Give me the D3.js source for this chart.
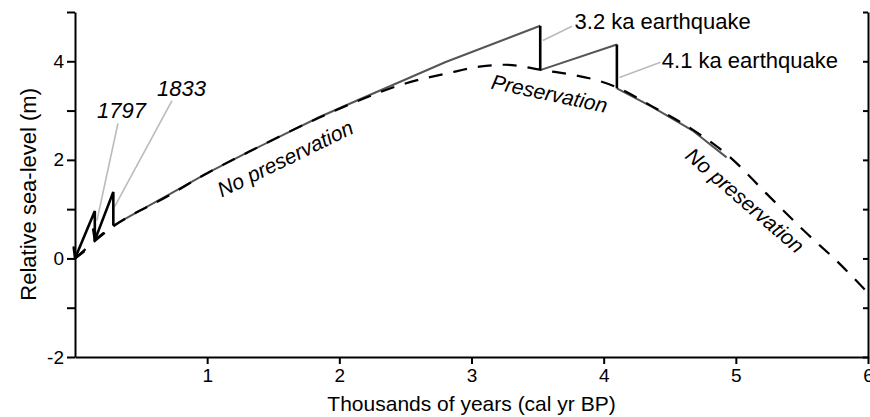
<!DOCTYPE html>
<html>
<head>
<meta charset="utf-8">
<script src="https://cdn.jsdelivr.net/npm/d3@7"></script>
<style>
  body { margin: 0; background: #fff; }
  text { font-family: "Liberation Sans", Arial, sans-serif; }
</style>
</head>
<body>
<div id="chart"></div>
<script>
// data (thousands of years BP, metres)
var xTicks = [1, 2, 3, 4, 5, 6];
var yTicks = [-2, -1, 0, 1, 2, 3, 4, 5];

// relative sea-level curve (dashed)
var rslCurve = [[0,0],[0.29,0.65],[0.7,1.26],[1.0,1.73],[1.32,2.17],[1.85,2.86],[2.19,3.25],
  [2.5,3.55],[2.84,3.77],[3.06,3.89],[3.25,3.93],[3.52,3.83],[4.1,3.47],[4.37,3.08],
  [4.67,2.62],[4.95,2.07],[5.23,1.32],[5.52,0.55],[5.79,-0.12],[6.0,-0.7]];

// preserved record (grey solid)
var recordA = [[0.29,0.67],[0.7,1.28],[1.0,1.73],[1.32,2.17],[1.85,2.87],[2.19,3.27],[2.5,3.63],[2.8,3.98],[3.52,4.72]];
var recordB = [[3.52,3.82],[4.1,4.34]];
var recordC = [[4.1,3.45],[4.37,3.07],[4.67,2.6],[4.93,2.05]];

// historic earthquakes zigzag and coseismic drops (black)
var historic = [[0,0],[0.15,0.96],[0.15,0.37],[0.29,1.35],[0.29,0.67]];
var drop32 = [[3.52,4.72],[3.52,3.82]];
var drop41 = [[4.1,4.34],[4.1,3.45]];
var arrowTips = [[[0,0],[0.15,0.96]], [[0.15,0.37],[0.29,1.35]]];

// callouts: label, text position, leader from / to
var callouts = [
  {label: "1797", italic: true, t: 0.166, v: 2.84, from: [0.325,2.74], to: [0.166,0.77]},
  {label: "1833", italic: true, t: 0.62, v: 3.29, from: [0.734,3.2], to: [0.30,1.05]},
  {label: "3.2 ka earthquake", italic: false, t: 3.78, v: 4.65, from: [3.76,4.71], to: [3.54,4.42]},
  {label: "4.1 ka earthquake", italic: false, t: 4.44, v: 3.87, from: [4.43,3.98], to: [4.12,3.67]}
];
var segmentLabels = [
  {label: "No preservation", t: 1.59, v: 2.03, angle: -26},
  {label: "Preservation", t: 3.59, v: 3.35, angle: 12},
  {label: "No preservation", t: 5.07, v: 1.18, angle: 40.7}
];

var W = 870, H = 417;
var margin = {top: 12, right: 2, bottom: 60, left: 75};

var svg = d3.select("#chart").append("svg")
    .attr("width", W).attr("height", H);

var x = d3.scaleLinear().domain([0, 6]).range([margin.left, W - margin.right]);
var y = d3.scaleLinear().domain([-2, 5]).range([H - margin.bottom, margin.top]);

var line = d3.line()
    .x(function(d) { return x(d[0]); })
    .y(function(d) { return y(d[1]); });

// axes
var xAxis = svg.append("g")
    .attr("transform", "translate(0," + y(-2) + ")")
    .call(d3.axisBottom(x).tickValues(xTicks).tickSize(7).tickSizeOuter(0).tickPadding(4)
      .tickFormat(d3.format("d")));
var yAxis = svg.append("g")
    .attr("transform", "translate(" + x(0) + ",0)")
    .call(d3.axisLeft(y).tickValues(yTicks).tickSize(8).tickSizeOuter(0).tickPadding(3)
      .tickFormat(function(d) { return d % 2 === 0 ? d : ""; }));
var rAxis = svg.append("g")
    .attr("transform", "translate(" + x(6) + ",0)")
    .call(d3.axisLeft(y).tickValues(yTicks).tickSize(5).tickSizeOuter(0).tickFormat(""));

[xAxis, yAxis, rAxis].forEach(function(g) {
  g.selectAll("path, line").attr("stroke", "#000").attr("stroke-width", 2);
  g.selectAll("text").attr("fill", "#000").style("font-size", "19px")
    .style("font-family", "Liberation Sans, Arial, sans-serif");
});
xAxis.selectAll("text").attr("dy", "0.75em");

// axis titles
svg.append("text")
    .attr("x", (x(0) + x(6)) / 2).attr("y", 411)
    .attr("text-anchor", "middle")
    .style("font-size", "21px")
    .text("Thousands of years (cal yr BP)");
svg.append("text")
    .attr("transform", "translate(36," + y(1.3) + ") rotate(-90)")
    .attr("text-anchor", "middle")
    .style("font-size", "22px")
    .text("Relative sea-level (m)");

// preserved record, grey
[recordA, recordB, recordC].forEach(function(seg) {
  svg.append("path").datum(seg)
      .attr("fill", "none").attr("stroke", "#555").attr("stroke-width", 2)
      .attr("d", line);
});

// leaders
callouts.forEach(function(c) {
  svg.append("line")
      .attr("x1", x(c.from[0])).attr("y1", y(c.from[1]))
      .attr("x2", x(c.to[0])).attr("y2", y(c.to[1]))
      .attr("stroke", "#bbb").attr("stroke-width", 1.6);
});

// black drops and zigzag
[historic, drop32, drop41].forEach(function(seg) {
  svg.append("path").datum(seg)
      .attr("fill", "none").attr("stroke", "#000").attr("stroke-width", 2.6)
      .attr("stroke-linejoin", "miter")
      .attr("d", line);
});

// arrowheads at the lower ends of the historic rises
arrowTips.forEach(function(a) {
  var x0 = x(a[0][0]), y0 = y(a[0][1]), x1 = x(a[1][0]), y1 = y(a[1][1]);
  var ang = Math.atan2(y1 - y0, x1 - x0);
  var len = 11;
  [-0.52, 0.52].forEach(function(off) {
    svg.append("line")
        .attr("x1", x0).attr("y1", y0)
        .attr("x2", x0 + len * Math.cos(ang + off)).attr("y2", y0 + len * Math.sin(ang + off))
        .attr("stroke", "#000").attr("stroke-width", 2.4).attr("stroke-linecap", "round");
  });
});

// relative sea-level, dashed on top
svg.append("path").datum(rslCurve)
    .attr("fill", "none").attr("stroke", "#000").attr("stroke-width", 2.2)
    .attr("stroke-dasharray", "14,11")
    .attr("d", line.curve(d3.curveMonotoneX));

// callout labels
callouts.forEach(function(c) {
  svg.append("text")
      .attr("x", x(c.t)).attr("y", y(c.v))
      .style("font-size", "22px")
      .style("font-style", c.italic ? "italic" : "normal")
      .text(c.label);
});

// segment labels
segmentLabels.forEach(function(s) {
  svg.append("text")
      .attr("transform", "translate(" + x(s.t) + "," + y(s.v) + ") rotate(" + s.angle + ")")
      .attr("text-anchor", "middle")
      .attr("dominant-baseline", "central")
      .style("font-size", "21px")
      .style("font-style", "italic")
      .text(s.label);
});
</script>
</body>
</html>
